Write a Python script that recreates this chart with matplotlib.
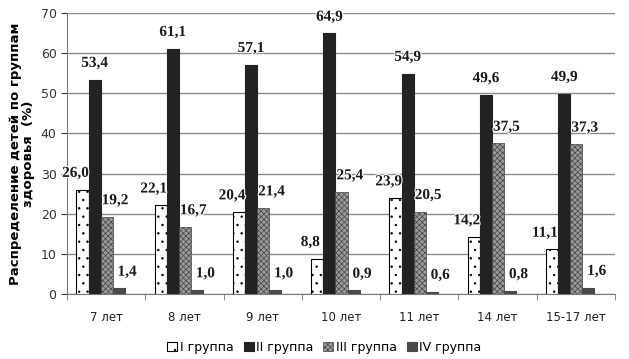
import matplotlib
matplotlib.use("Agg")
import matplotlib.pyplot as plt
import matplotlib.patheffects as pe
import numpy as np

# ── Data ──────────────────────────────────────────────────────────────────────
ages = ["7 лет", "8 лет", "9 лет", "10 лет", "11 лет", "14 лет", "15-17 лет"]
group_1 = [26.0, 22.1, 20.4, 8.8, 23.9, 14.2, 11.1]
group_2 = [53.4, 61.1, 57.1, 64.9, 54.9, 49.6, 49.9]
group_3 = [19.2, 16.7, 21.4, 25.4, 20.5, 37.5, 37.3]
group_4 = [1.4, 1.0, 1.0, 0.9, 0.6, 0.8, 1.6]
series_names = ["I группа", "II группа", "III группа", "IV группа"]

plt.rcParams["hatch.linewidth"] = 0.5

fig = plt.figure(figsize=(6.29, 3.59), dpi=100)
ax = fig.add_axes([0.1065, 0.181, 0.871, 0.783])

x = np.arange(len(ages))
w = 0.155
shift = -0.07
styles = [
    dict(facecolor="white", edgecolor="black", hatch="..", linewidth=0.8),
    dict(facecolor="#222222", edgecolor="#222222", linewidth=0.8),
    dict(facecolor="#9a9a9a", edgecolor="#444444", hatch="xxxxxx", linewidth=0.5),
    dict(facecolor="#4a4a4a", edgecolor="#4a4a4a", linewidth=0.8),
]
label_dx = [-5, 0, 6, 6]   # label nudges in points, as in the original
data = [group_1, group_2, group_3, group_4]
halo = [pe.withStroke(linewidth=1.6, foreground="white")]

for i, (vals, st, name) in enumerate(zip(data, styles, series_names)):
    pos = x + shift + (i - 1.5) * w
    ax.bar(pos, vals, width=w, label=name, zorder=3, **st)
    for px, v in zip(pos, vals):
        ax.annotate(f"{v:.1f}".replace(".", ","), (px, v), xytext=(label_dx[i], 7),
                    textcoords="offset points", ha="center", va="bottom",
                    fontsize=11, fontweight="bold", family="Liberation Serif",
                    color="#1a1a1a", zorder=4, path_effects=halo)

ax.set_xlim(-0.5, len(ages) - 0.5)
ax.set_ylim(0, 70)
ax.set_yticks(range(0, 71, 10))
ax.yaxis.grid(True, color="#8a8a8a", linewidth=1.0, zorder=0)
ax.set_axisbelow(True)

ax.set_xticks(x)
ax.set_xticklabels(ages, fontsize=8.5, color="#222222")
ax.set_xticks(np.arange(-0.5, len(ages), 1), minor=True)
ax.tick_params(axis="x", which="major", length=0, pad=12)
ax.tick_params(axis="x", which="minor", length=4, color="#777777")
ax.tick_params(axis="y", labelsize=9, colors="#333333", length=4)

for s in ["top", "right"]:
    ax.spines[s].set_visible(False)
for s in ["left", "bottom"]:
    ax.spines[s].set_color("#777777")

ax.set_ylabel("Распределение детей по группам\nздоровья  (%)",
              fontsize=9.5, fontweight="bold", labelpad=4, linespacing=1.0)

ax.legend(loc="center", bbox_to_anchor=(0.47, -0.19), ncol=4,
          frameon=False, fontsize=9, handlelength=0.8, handleheight=0.8,
          handletextpad=0.2, columnspacing=0.8)

plt.savefig("out.png", dpi=100)
